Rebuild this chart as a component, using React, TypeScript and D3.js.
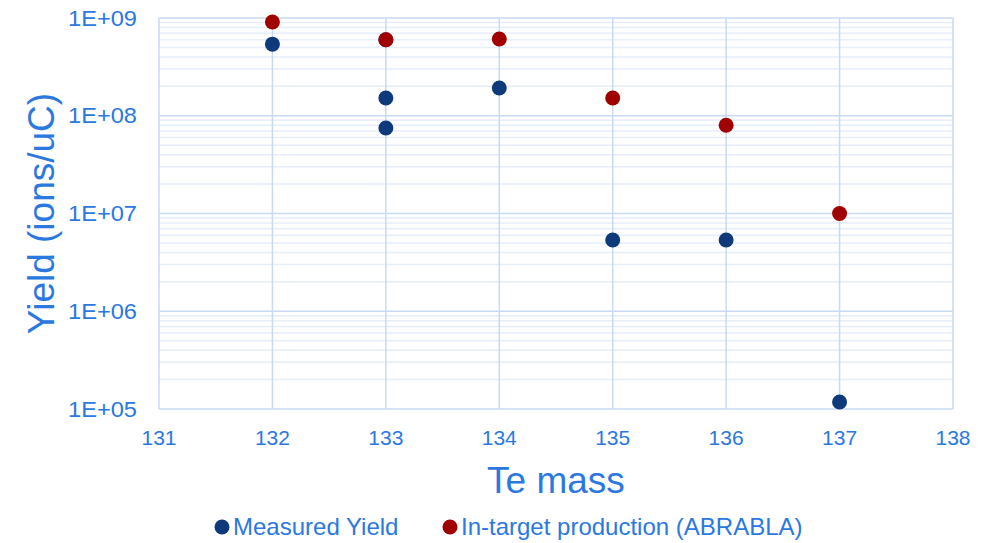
import React from "react";
import * as d3 from "d3";

const measuredMass = [132, 133, 133, 133, 134, 135, 136, 137];
const measuredYield = [5.4e8, 6.0e8, 1.52e8, 7.5e7, 1.92e8, 5.35e6, 5.35e6, 1.18e5];
const abrablaMass = [132, 133, 134, 135, 136, 137];
const abrablaYield = [9.1e8, 6.0e8, 6.1e8, 1.52e8, 8.0e7, 1.0e7];
const xTicks = [131, 132, 133, 134, 135, 136, 137, 138];
const yTicks = [1e5, 1e6, 1e7, 1e8, 1e9];
const yTickLabels = ["1E+05", "1E+06", "1E+07", "1E+08", "1E+09"];
const seriesNames = ["Measured Yield", "In-target production (ABRABLA)"];

const W = 999, H = 543;
const L = 159, R = 953, T = 18, B = 409;
const textColor = "#2a78e0";
const blue = "#0e3a7c";
const red = "#a00000";
const font = "'Liberation Sans', Arial, sans-serif";

export default function App() {
  const x = d3.scaleLinear().domain([131, 138]).range([L, R]);
  const y = d3.scaleLog().domain([1e5, 1e9]).range([B, T]);
  const minor: number[] = [];
  for (let e = 5; e < 9; e++) for (let m = 2; m <= 9; m++) minor.push(m * Math.pow(10, e));

  return (
    <svg width={W} height={H} style={{ position: "absolute", left: 0, top: 0 }}>
      <rect width={W} height={H} fill="#fff" />
      {minor.map((v, i) => (
        <line key={"mn" + i} x1={L} x2={R} y1={y(v)} y2={y(v)} stroke="#e6eefa" strokeWidth={1.5} />
      ))}
      {yTicks.map((v, i) => (
        <line key={"my" + i} x1={L} x2={R} y1={y(v)} y2={y(v)} stroke="#c8daf3" strokeWidth={1.5} />
      ))}
      {xTicks.map((v, i) => (
        <line key={"mx" + i} x1={x(v)} x2={x(v)} y1={T} y2={B} stroke="#c8daf3" strokeWidth={1.5} />
      ))}
      {yTicks.map((v, i) => (
        <text key={"yl" + i} x={137} y={y(v)} dy="0.35em" textAnchor="end" fontFamily={font} fontSize={22}
          textLength={69} lengthAdjust="spacingAndGlyphs" fill={textColor}>
          {yTickLabels[i]}
        </text>
      ))}
      {xTicks.map((v, i) => (
        <text key={"xl" + i} x={x(v)} y={445} textAnchor="middle" fontFamily={font} fontSize={21} fill={textColor}>
          {v}
        </text>
      ))}
      <text x={556} y={493} textAnchor="middle" fontFamily={font} fontSize={37} fill={textColor}>Te mass</text>
      <text transform={`translate(54,${(T + B) / 2}) rotate(-90)`} textAnchor="middle" fontFamily={font} fontSize={37} fill={textColor}>
        Yield (ions/uC)
      </text>
      {measuredMass.map((m, i) => (
        <circle key={"b" + i} cx={x(m)} cy={y(measuredYield[i])} r={7.5} fill={blue} />
      ))}
      {abrablaMass.map((m, i) => (
        <circle key={"r" + i} cx={x(m)} cy={y(abrablaYield[i])} r={7.5} fill={red} />
      ))}
      <circle cx={222} cy={527} r={7.5} fill={blue} />
      <text x={233} y={535} fontFamily={font} fontSize={24} fill={textColor}>{seriesNames[0]}</text>
      <circle cx={450} cy={527} r={7.5} fill={red} />
      <text x={461} y={535} fontFamily={font} fontSize={24} fill={textColor}>{seriesNames[1]}</text>
    </svg>
  );
}
